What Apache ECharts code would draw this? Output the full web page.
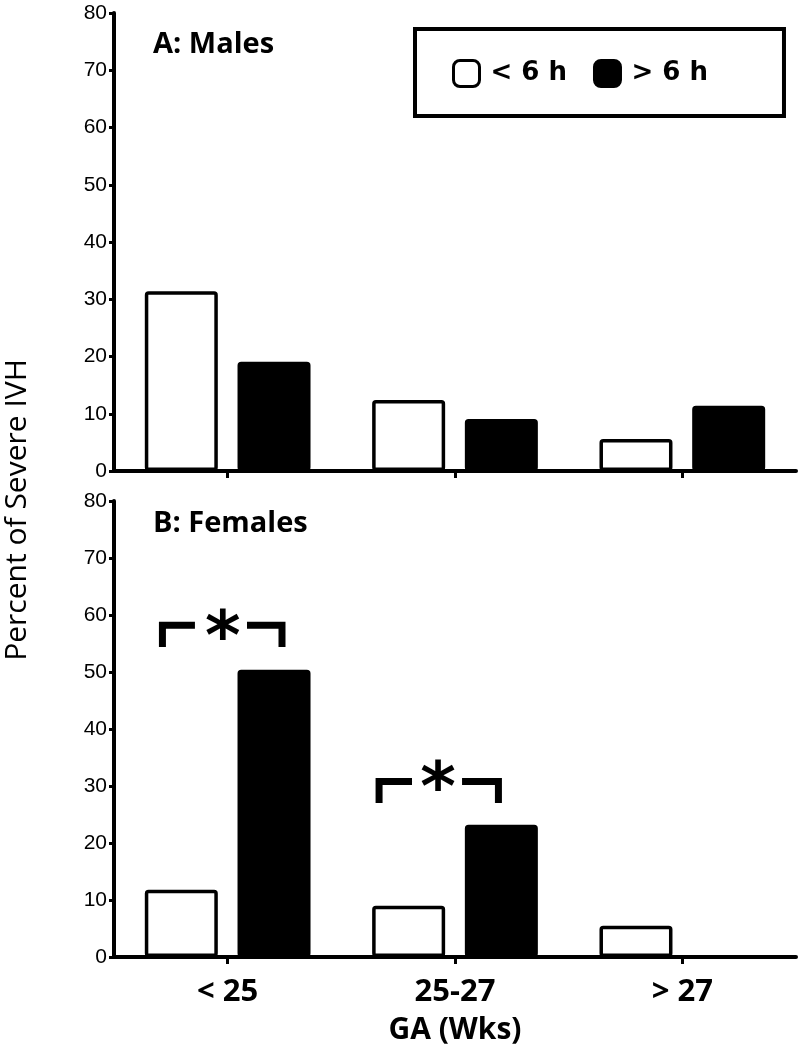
<!DOCTYPE html>
<html>
<head>
<meta charset="utf-8">
<script src="https://cdn.jsdelivr.net/npm/echarts@6/dist/echarts.min.js"></script>
<style>
  html, body { margin: 0; padding: 0; background: #fff; }
  #chart { width: 802px; height: 1050px; }
</style>
</head>
<body>
<div id="chart"></div>
<script>
// ---- data ----
const categories = ['< 25', '25-27', '> 27'];
const seriesNames = ['< 6 h', '> 6 h'];
const panelTitles = ['A: Males', 'B: Females'];
const xAxisTitle = 'GA (Wks)';
const yAxisTitle = 'Percent of Severe IVH';
const malesUnder6h = [31.4, 12.4, 5.6];
const malesOver6h = [19.1, 9.1, 11.4];
const femalesUnder6h = [11.8, 9.0, 5.5];
const femalesOver6h = [50.4, 23.2, 0];
const yMin = 0, yMax = 80, yStep = 10;
// significance brackets (x in category units, y in percent)
const bracket1Left = [[-0.287, 54.4], [-0.287, 58.2], [-0.144, 58.2]];
const bracket1Right = [[0.085, 58.2], [0.239, 58.2], [0.239, 54.4]];
const bracket2Left = [[0.666, 27.0], [0.666, 30.8], [0.811, 30.8]];
const bracket2Right = [[1.031, 30.8], [1.191, 30.8], [1.191, 27.0]];
const asterisks = [[-0.021, 57.9], [0.925, 31.4]];

const chart = echarts.init(document.getElementById('chart'), null, { renderer: 'canvas' });

const black = '#000';
function xCat(gridIndex, showLabels) {
  return {
    type: 'category', gridIndex: gridIndex, data: categories,
    axisLine: { show: true, onZero: false, lineStyle: { color: black, width: 4 } },
    axisTick: { show: true, alignWithLabel: true, length: 7, lineStyle: { color: black, width: 3 } },
    axisLabel: showLabels ? {
      show: true, margin: 20, color: black, fontSize: 31, fontWeight: 'bold', fontFamily: 'Open Sans'
    } : { show: false },
    splitLine: { show: false }
  };
}
function yVal(gridIndex) {
  return {
    type: 'value', gridIndex: gridIndex, min: yMin, max: yMax, interval: yStep,
    axisLine: { show: true, onZero: false, lineStyle: { color: black, width: 4 } },
    axisTick: { show: true, length: 5, lineStyle: { color: black, width: 3 } },
    axisLabel: { show: true, margin: 7, color: black, fontSize: 21, fontFamily: 'Liberation Sans' },
    splitLine: { show: false }
  };
}
function bar(name, data, gi, fill) {
  return {
    type: 'bar', name: name, data: data, xAxisIndex: gi, yAxisIndex: gi,
    barWidth: 73, barGap: '27%',
    itemStyle: { color: fill, borderColor: black, borderWidth: 3.5, borderRadius: 2 },
    emphasis: { disabled: true }
  };
}
function bracket(data) {
  return {
    type: 'line', data: data, xAxisIndex: 2, yAxisIndex: 1,
    symbol: 'none', silent: true,
    lineStyle: { color: black, width: 7, cap: 'butt', join: 'miter' }
  };
}

const xAxes = [xCat(0, false), xCat(1, true)];
xAxes[1].name = xAxisTitle;
xAxes[1].nameLocation = 'middle';
xAxes[1].nameGap = 58;
xAxes[1].nameTextStyle = { color: black, fontSize: 30, fontWeight: 'bold', fontFamily: 'Open Sans' };
xAxes.push({ type: 'value', gridIndex: 1, min: -0.5, max: 2.5, show: false });

const option = {
  animation: false,
  backgroundColor: '#fff',
  grid: [
    { left: 114, top: 13, width: 682, height: 458 },
    { left: 114, top: 501, width: 682, height: 456 }
  ],
  legend: {
    left: 415, top: 29,
    orient: 'horizontal',
    icon: 'roundRect',
    itemWidth: 26, itemHeight: 26, itemGap: 26,
    borderColor: black, borderWidth: 4, borderRadius: 0,
    padding: [30, 76, 28, 37],
    textStyle: { color: black, fontSize: 26, fontWeight: 'bold', fontFamily: 'DejaVu Sans', padding: [0, 0, 0, 6] },
    data: [
      { name: seriesNames[0], itemStyle: { color: '#fff', borderColor: black, borderWidth: 3 } },
      { name: seriesNames[1], itemStyle: { color: black, borderColor: black, borderWidth: 3 } }
    ],
    selectedMode: false
  },
  xAxis: xAxes,
  yAxis: [yVal(0), yVal(1)],
  graphic: [
    { type: 'text', x: 153, y: 45, style: { text: panelTitles[0], fill: black, font: 'bold 29px "Open Sans"', verticalAlign: 'middle' } },
    { type: 'text', x: 153, y: 524, style: { text: panelTitles[1], fill: black, font: 'bold 29px "Open Sans"', verticalAlign: 'middle' } },
    { type: 'text', x: 17, y: 510, rotation: Math.PI / 2, style: { text: yAxisTitle, fill: black, font: '30px "Open Sans"', align: 'center', verticalAlign: 'middle' } }
  ],
  series: [
    bar(seriesNames[0], malesUnder6h, 0, '#fff'),
    bar(seriesNames[1], malesOver6h, 0, black),
    bar(seriesNames[0], femalesUnder6h, 1, '#fff'),
    bar(seriesNames[1], femalesOver6h, 1, black),
    bracket(bracket1Left), bracket(bracket1Right), bracket(bracket2Left), bracket(bracket2Right),
    {
      type: 'scatter', data: asterisks, xAxisIndex: 2, yAxisIndex: 1,
      symbolSize: 1, itemStyle: { color: 'rgba(255,255,255,0)', opacity: 1 }, silent: true,
      label: { show: true, formatter: '*', position: 'inside', offset: [0, 14], color: black, opacity: 1, textBorderWidth: 0, fontSize: 68, fontWeight: 'bold', fontFamily: 'DejaVu Sans' }
    }
  ]
};
chart.setOption(option);
</script>
</body>
</html>
